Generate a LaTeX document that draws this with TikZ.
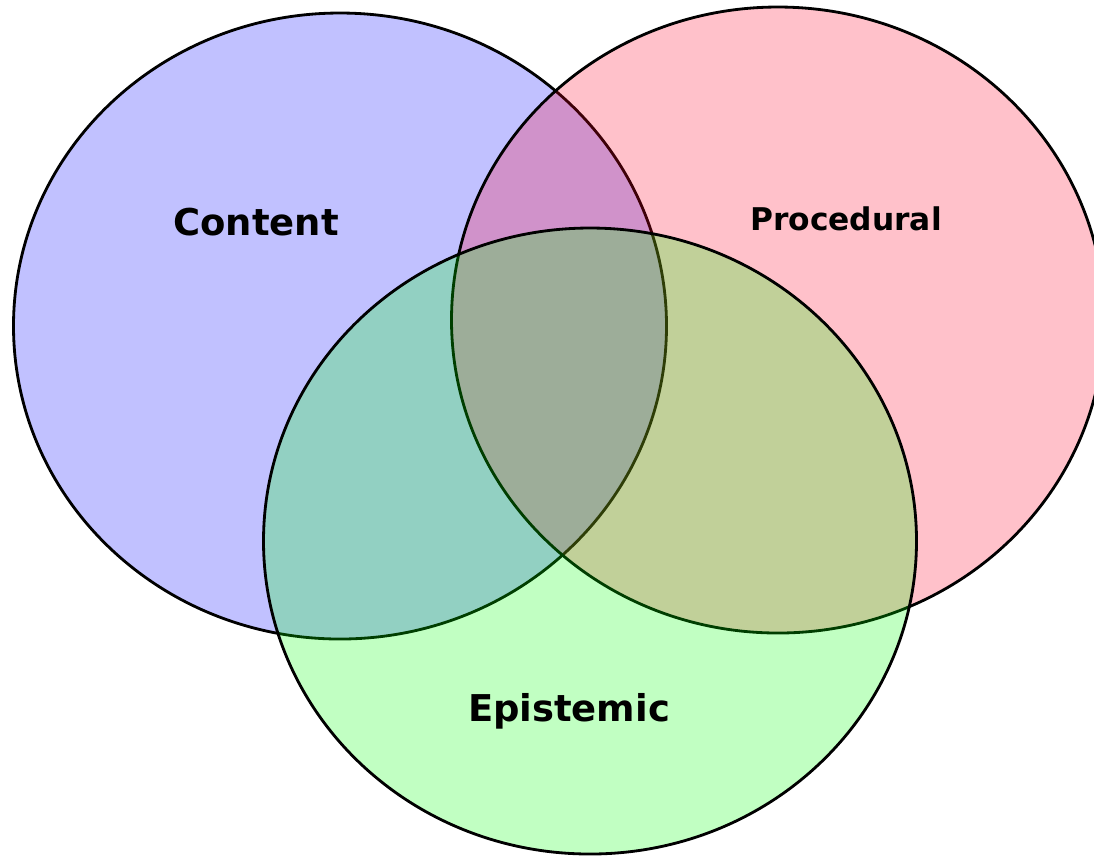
\documentclass[tikz,border=0pt]{standalone}
\usepackage{fontspec}
\setmainfont{DejaVu Sans}
\definecolor{cblue}{RGB}{0,0,255}
\definecolor{cpink}{RGB}{255,0,36}
\definecolor{cgreen}{RGB}{0,255,4}
\tikzset{
  setcircle/.style={draw=black, line width=0.8pt, fill opacity=0.245},
  setlabel/.style={font=\bfseries, text=black, inner sep=0pt}
}
\begin{document}
\begin{tikzpicture}[x=0.01cm,y=-0.01cm]
\useasboundingbox (0,0) rectangle (1094,856);
\begin{scope}
\clip (0,0) rectangle (1094,856);
\draw[setcircle, fill=cblue] (340,326) ellipse [x radius=326.5, y radius=313];
\draw[setcircle, fill=cpink] (778,320) ellipse [x radius=326.5, y radius=313];
\draw[setcircle, fill=cgreen] (590,541) ellipse [x radius=326.5, y radius=313];
\end{scope}
\node[setlabel, font=\fontsize{10.5pt}{12pt}\selectfont\bfseries] (content) at (256,222) {Content};
\node[setlabel, font=\fontsize{8.9pt}{11pt}\selectfont\bfseries] (procedural) at (846,219) {Procedural};
\node[setlabel, font=\fontsize{10.5pt}{12pt}\selectfont\bfseries] (epistemic) at (569,711) {Epistemic};
\end{tikzpicture}
\end{document}
